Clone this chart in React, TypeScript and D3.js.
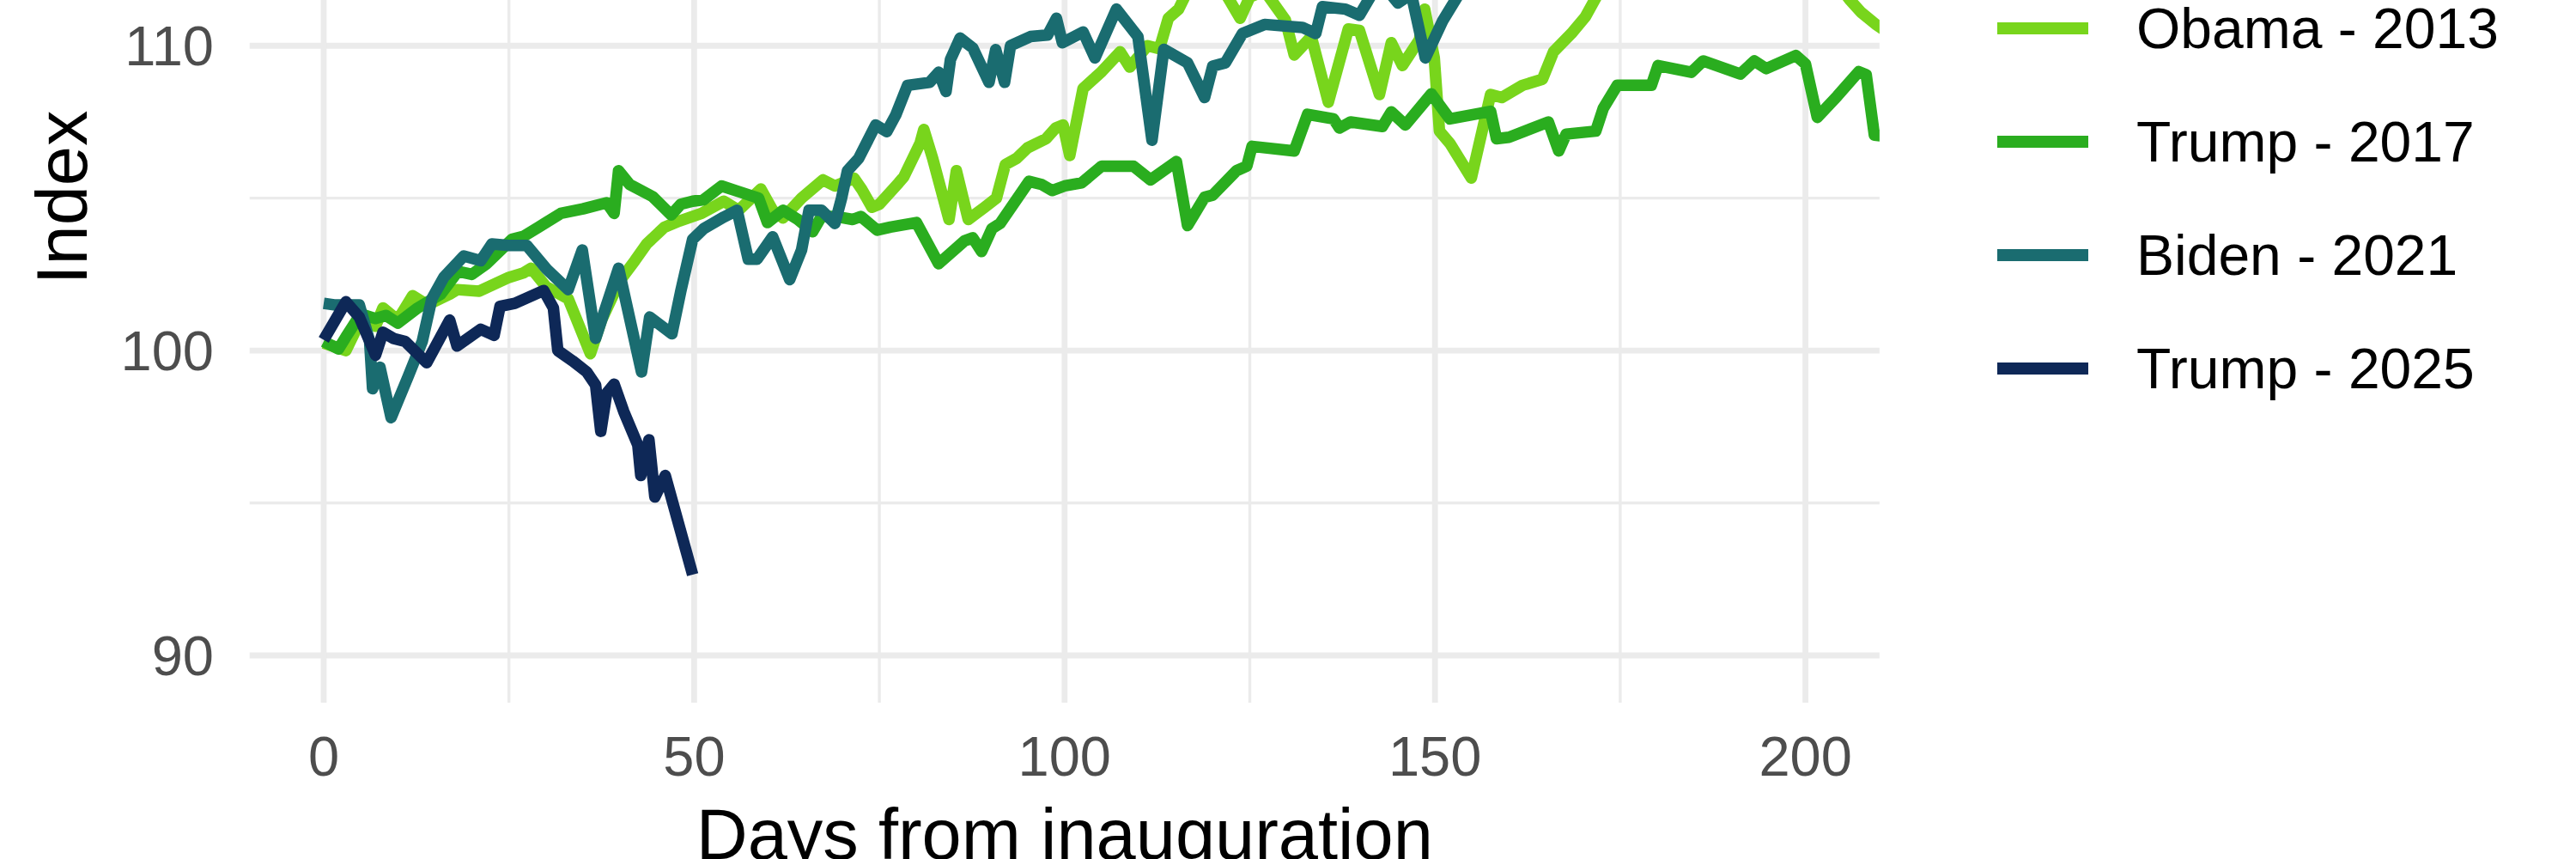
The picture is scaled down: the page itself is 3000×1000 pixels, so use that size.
import React from "react";
import * as d3 from "d3";

type Pt = [number, number];

const seriesNames = ["Obama - 2013", "Trump - 2017", "Biden - 2021", "Trump - 2025"];
const seriesColors = ["#78D51C", "#2AAD1F", "#1A6C70", "#0E2857"];

const obama2013: Pt[] = [
  [0, 100.25], [3, 100.0], [5, 101.0], [7, 100.8], [8, 101.4], [10, 101.0], [12, 101.8], [14, 101.5],
  [17, 101.85], [18, 102.0], [21, 101.95], [25, 102.4], [27, 102.55], [28, 102.7], [30, 102.1],
  [33, 101.7], [34, 101.1], [36, 99.9], [37.5, 101.0], [40, 102.3], [42, 102.95], [43.6, 103.5],
  [46, 104.05], [48, 104.25], [51, 104.5], [54, 104.9], [56, 104.6], [59, 105.3], [60.6, 104.6],
  [62, 104.35], [64.5, 105.0], [67.4, 105.6], [69, 105.4], [71.6, 105.65], [72.6, 105.3], [74, 104.7],
  [75, 104.8], [77.6, 105.5], [78.3, 105.7], [80.5, 106.8], [81, 107.25], [82.2, 106.3], [84.4, 104.3],
  [85.4, 105.9], [87, 104.3], [89.2, 104.7], [90.8, 105.0], [92, 106.1], [93.5, 106.3], [95, 106.65],
  [97.5, 106.95], [98.8, 107.3], [99.8, 107.4], [100.7, 106.4], [102.5, 108.6], [105, 109.15],
  [107.5, 109.8], [108.8, 109.3], [111.2, 110.0], [112.8, 109.9], [114, 110.9], [115.4, 111.2],
  [117, 112.0], [120, 112.4], [122, 111.6], [123.7, 110.9], [125, 111.6], [127, 111.8], [129.8, 110.85],
  [131, 109.7], [133.3, 110.3], [135.6, 108.15], [138.3, 110.55], [139.8, 110.5], [142.5, 108.4],
  [144.1, 110.1], [145.6, 109.35], [147.9, 110.2], [148.6, 111.2], [149.9, 109.6], [150.6, 107.2],
  [152, 106.8], [154.9, 105.66], [157.5, 108.4], [159, 108.3], [161.8, 108.7], [164.5, 108.9],
  [166, 109.8], [168.4, 110.4], [170.3, 110.95], [172, 111.7], [176, 112.6], [185, 114.0],
  [195, 114.4], [202, 112.8], [206, 111.5], [207.5, 111.1], [209.5, 110.7], [212, 110.3]
];

const trump2017: Pt[] = [
  [0, 100.3], [2, 100.05], [3, 100.45], [5, 101.2], [7, 101.05], [8.4, 101.15], [10, 100.9],
  [12.7, 101.4], [15.8, 101.85], [18.1, 102.6], [20, 102.5], [22, 102.85], [25.4, 103.65],
  [27, 103.75], [29, 104.05], [32, 104.5], [35, 104.65], [38.2, 104.85], [39.2, 104.5], [39.8, 105.9],
  [41.3, 105.45], [44.4, 105.05], [46.9, 104.45], [48.2, 104.8], [49.8, 104.9], [51.3, 104.95],
  [53.7, 105.4], [55.6, 105.25], [58.7, 105.0], [59.9, 104.2], [62, 104.6], [64, 104.3], [66, 103.9],
  [67.2, 104.4], [69, 104.4], [71.4, 104.3], [72.5, 104.4], [74.7, 103.95], [76.5, 104.05],
  [80, 104.2], [83, 102.85], [86.5, 103.6], [87.6, 103.7], [88.8, 103.25], [90.2, 104.0],
  [91.3, 104.17], [95.2, 105.55], [96.9, 105.45], [98.3, 105.25], [100, 105.4], [102.3, 105.5],
  [105, 106.05], [109.3, 106.05], [111.6, 105.6], [115.1, 106.2], [116.6, 104.1], [118.9, 105.03],
  [120, 105.1], [123.2, 105.9], [124.6, 106.05], [125.3, 106.7], [131, 106.55], [132.8, 107.75],
  [136.3, 107.6], [137.1, 107.3], [138.6, 107.5], [142.9, 107.35], [144.1, 107.83], [146, 107.4],
  [149.5, 108.42], [152, 107.6], [157.5, 107.85], [158.3, 106.95], [160, 107.0], [165.3, 107.5],
  [166.7, 106.55], [167.7, 107.1], [171.7, 107.2], [172.7, 107.94], [174.6, 108.7], [179.2, 108.7],
  [180.1, 109.35], [184.6, 109.13], [186.2, 109.5], [191.2, 109.07], [193.1, 109.5], [194.7, 109.25],
  [198.7, 109.68], [200, 109.4], [201.6, 107.65], [204.3, 108.35], [207.2, 109.15], [208.2, 109.05],
  [209.3, 107.07], [212, 107.0]
];

const biden2021: Pt[] = [
  [0, 101.55], [1.4, 101.5], [4.8, 101.5], [6.2, 100.3], [6.6, 98.75], [7.6, 99.45], [9.1, 97.8],
  [11.4, 99.15], [13.3, 100.3], [14.6, 101.7], [16.2, 102.4], [18.9, 103.1], [21.2, 102.95],
  [22.7, 103.5], [25, 103.45], [27.4, 103.45], [30.1, 102.67], [33, 102.0], [34.9, 103.3],
  [36.7, 100.4], [39.8, 102.7], [42.9, 99.3], [44, 101.1], [47, 100.55], [48.2, 101.95],
  [49.8, 103.65], [51.3, 104.0], [54, 104.38], [55.8, 104.6], [57.3, 103.0], [58.5, 103.0],
  [60.6, 103.73], [62.9, 102.33], [64.5, 103.3], [65.5, 104.6], [67.2, 104.6], [69, 104.17],
  [69.9, 105.0], [70.7, 105.9], [72.2, 106.3], [74.5, 107.4], [76, 107.18], [77.2, 107.72],
  [78.8, 108.7], [81.8, 108.8], [83, 109.13], [84, 108.5], [84.6, 109.55], [85.9, 110.25],
  [87.6, 109.93], [89.8, 108.8], [90.7, 109.87], [91.9, 108.8], [92.7, 110.0], [95.4, 110.3],
  [97.7, 110.35], [98.9, 110.9], [99.7, 110.1], [102.5, 110.45], [104.1, 109.6], [107, 111.2],
  [109.9, 110.3], [111.8, 106.9], [113.4, 109.88], [116.6, 109.44], [118.9, 108.3], [120, 109.33],
  [121.7, 109.44], [124, 110.4], [127, 110.7], [132.1, 110.6], [133.9, 110.4], [134.8, 111.28],
  [137.9, 111.2], [139.8, 111.0], [141.5, 111.7], [143, 112.0], [145, 111.4], [146.8, 111.7],
  [148.7, 109.6], [151, 110.8], [153, 111.6], [156, 112.5], [165, 113.8], [180, 115.0],
  [200, 116.0], [212, 116.5]
];

const trump2025: Pt[] = [
  [0, 100.35], [3, 101.6], [4.8, 101.1], [7, 99.85], [8, 100.6], [9.4, 100.4], [11, 100.3],
  [13.9, 99.6], [17, 101.0], [18, 100.15], [21.2, 100.7], [23, 100.5], [23.8, 101.45], [25.8, 101.55],
  [29.7, 101.97], [31, 101.4], [31.6, 100.0], [33.6, 99.66], [35.5, 99.3], [36.7, 98.87],
  [37.4, 97.35], [38.2, 98.6], [39.2, 98.9], [40.5, 98.0], [42.4, 96.9], [42.8, 95.9], [43.9, 97.07],
  [44.7, 95.2], [46.1, 95.9], [49.8, 92.65]
];

const allSeries = [obama2013, trump2017, biden2021, trump2025];

const xTicks = [0, 50, 100, 150, 200];
const xMinorTicks = [25, 75, 125, 175];
const yTicks = [90, 100, 110];
const yMinorTicks = [95, 105];

const FONT = "'Liberation Sans', Arial, Helvetica, sans-serif";

export default function App() {
  const W = 3000;
  const H = 1000;
  const panelLeft = 290.7;
  const panelRight = 2188.9;
  const panelBottom = 818;
  const panelTop = -50;

  const x = d3.scaleLinear().domain([-10, 210]).range([panelLeft, panelRight]);
  const y = d3.scaleLinear().domain([88.45, 111.5]).range([panelBottom, 0]);

  const line = d3
    .line<Pt>()
    .x((d) => x(d[0]))
    .y((d) => y(d[1]));

  const tickFs = 65;
  const titleFs = 83;
  const legendFs = 66;
  const legendRows = [33, 165, 297, 429];

  return (
    <svg
      width={W}
      height={H}
      viewBox={`0 0 ${W} ${H}`}
      style={{ position: "absolute", left: 0, top: 0, background: "#fff" }}
    >
      <defs>
        <clipPath id="panel">
          <rect x={panelLeft} y={panelTop} width={panelRight - panelLeft} height={panelBottom - panelTop} />
        </clipPath>
      </defs>
      <rect x={0} y={0} width={W} height={H} fill="#ffffff" />

      {yMinorTicks.map((t) => (
        <line key={"ym" + t} x1={panelLeft} x2={panelRight} y1={y(t)} y2={y(t)} stroke="#EBEBEB" strokeWidth={3.4} />
      ))}
      {xMinorTicks.map((t) => (
        <line key={"xm" + t} x1={x(t)} x2={x(t)} y1={panelTop} y2={panelBottom} stroke="#EBEBEB" strokeWidth={3.4} />
      ))}
      {yTicks.map((t) => (
        <line key={"y" + t} x1={panelLeft} x2={panelRight} y1={y(t)} y2={y(t)} stroke="#EBEBEB" strokeWidth={6.8} />
      ))}
      {xTicks.map((t) => (
        <line key={"x" + t} x1={x(t)} x2={x(t)} y1={panelTop} y2={panelBottom} stroke="#EBEBEB" strokeWidth={6.8} />
      ))}

      <g clipPath="url(#panel)">
        {allSeries.map((s, i) => (
          <path
            key={seriesNames[i]}
            d={line(s) || ""}
            fill="none"
            stroke={seriesColors[i]}
            strokeWidth={13.5}
            strokeLinejoin="round"
            strokeLinecap="butt"
          />
        ))}
      </g>

      {yTicks.map((t) => (
        <text
          key={"yl" + t}
          x={249}
          y={y(t) + tickFs * 0.355}
          textAnchor="end"
          fontFamily={FONT}
          fontSize={tickFs}
          fill="#4D4D4D"
        >
          {t}
        </text>
      ))}
      {xTicks.map((t) => (
        <text
          key={"xl" + t}
          x={x(t)}
          y={903}
          textAnchor="middle"
          fontFamily={FONT}
          fontSize={tickFs}
          fill="#4D4D4D"
        >
          {t}
        </text>
      ))}

      <text
        x={(panelLeft + panelRight) / 2}
        y={1000}
        textAnchor="middle"
        fontFamily={FONT}
        fontSize={titleFs}
        fill="#000"
      >
        Days from inauguration
      </text>
      <text
        transform={`translate(101,230) rotate(-90)`}
        textAnchor="middle"
        fontFamily={FONT}
        fontSize={titleFs}
        fill="#000"
      >
        Index
      </text>

      {seriesNames.map((n, i) => (
        <g key={"lg" + n}>
          <line
            x1={2326}
            x2={2432}
            y1={legendRows[i]}
            y2={legendRows[i]}
            stroke={seriesColors[i]}
            strokeWidth={14}
          />
          <text
            x={2488}
            y={legendRows[i] + legendFs * 0.355}
            fontFamily={FONT}
            fontSize={legendFs}
            fill="#000"
          >
            {n}
          </text>
        </g>
      ))}
    </svg>
  );
}
